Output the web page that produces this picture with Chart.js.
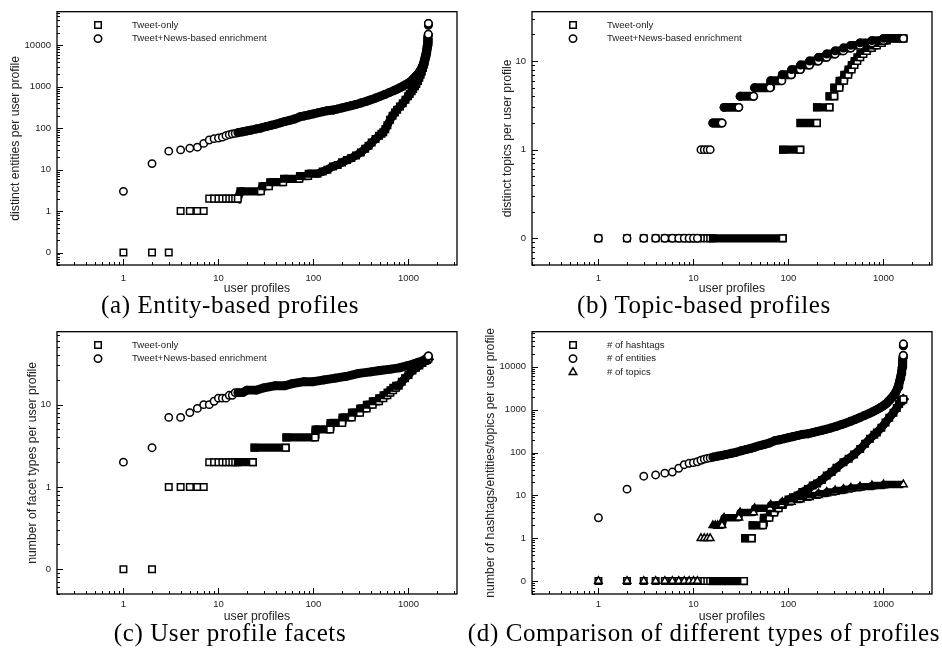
<!DOCTYPE html>
<html>
<head>
<meta charset="utf-8">
<title>User profile statistics</title>
<script src="https://cdn.jsdelivr.net/npm/chart.js@4.4.1/dist/chart.umd.min.js"></script>
<style>
  html, body { margin: 0; padding: 0; background: #fff; }
  #page { position: relative; width: 942px; height: 654px; overflow: hidden; }
  .panel { position: absolute; }
  .panel canvas { display: block; }
  .caption {
    position: absolute;
    font-family: 'Liberation Serif', 'DejaVu Serif', serif;
    font-size: 25px;
    letter-spacing: 0.6px;
    line-height: 26px;
    color: #000;
    white-space: nowrap;
    transform: translateX(-50%);
  }
</style>
</head>
<body>
<div id="page">
  <div class="panel" style="left:0;top:0"><canvas id="chart-a" width="470" height="296"></canvas></div>
  <div class="panel" style="left:470px;top:0"><canvas id="chart-b" width="472" height="296"></canvas></div>
  <div class="panel" style="left:0;top:320px"><canvas id="chart-c" width="470" height="304"></canvas></div>
  <div class="panel" style="left:470px;top:320px"><canvas id="chart-d" width="472" height="304"></canvas></div>
  <div class="caption" style="left:230px;top:292px">(a) Entity-based profiles</div>
  <div class="caption" style="left:704px;top:292px">(b) Topic-based profiles</div>
  <div class="caption" style="left:230px;top:620px">(c) User profile facets</div>
  <div class="caption" style="left:704px;top:620px">(d) Comparison of different types of profiles</div>
</div>
<script>
// tick labels
var rankTicks = [1, 10, 100, 1000];
var wideCountTicks = [0, 1, 10, 100, 1000, 10000];
var narrowCountTicks = [0, 1, 10];

// (a) entities, Tweet-only
var entityTweetRanks = [1, 2, 3, 4, 5, 6, 7, 8, 9, 10, 11, 12, 13, 14, 15, 16, 17, 28, 29, 34, 35, 48, 49, 71, 72, 88, 89, 110,
  125, 140, 160, 180, 200, 225, 250, 280, 315, 350, 380, 410, 450, 490, 520, 543, 570, 600, 640, 680, 720, 760, 813,
  870, 930, 990, 1030, 1080, 1120, 1170, 1210, 1260, 1300, 1340, 1380, 1420, 1450, 1480, 1510, 1540, 1565, 1585, 1600, 1612, 1620];
var entityTweetCounts = [0, 0, 0, 1, 1, 1, 1, 2, 2, 2, 2, 2, 2, 2, 2, 2, 3, 3, 4, 4, 5, 5, 6, 6, 7, 7, 8, 8,
  9, 10, 12, 13, 15, 17, 19, 22, 26, 32, 38, 45, 55, 66, 74, 80, 95, 118, 160, 200, 240, 280, 333,
  400, 490, 590, 675, 780, 880, 1030, 1170, 1390, 1650, 1950, 2350, 2850, 3400, 4000, 5000, 6200, 7500, 9000, 10500, 11500, 12000];

// (a) entities, Tweet+News (also "# of entities" in d)
var entityNewsRanks = [1, 2, 3, 4, 5, 6, 7, 8, 9, 10, 11, 12, 13, 14, 15, 16, 18, 20, 22, 25, 28, 32, 36, 40, 45, 50, 56, 63, 72, 80,
  90, 100, 112, 125, 140, 162, 180, 200, 225, 250, 280, 315, 363, 400, 450, 500, 560, 630, 700, 760, 813, 870, 930, 990,
  1030, 1080, 1120, 1170, 1210, 1250, 1290, 1330, 1370, 1400, 1427, 1450, 1475, 1500, 1520, 1540, 1556, 1572, 1584, 1594,
  1602, 1608, 1613, 1616, 1618, 1620];
var entityNewsCounts = [3, 14, 28, 30, 33, 35, 43, 52, 56, 58, 61, 66, 70, 73, 75, 78, 82, 86, 90, 96, 101, 110, 118, 125, 135, 145, 155, 167, 189, 198,
  210, 222, 236, 250, 265, 275, 292, 310, 330, 350, 375, 405, 450, 485, 535, 585, 650, 730, 810, 880, 950, 1030, 1120, 1220,
  1300, 1410, 1550, 1700, 1850, 2000, 2200, 2450, 2750, 3100, 3400, 3900, 4500, 5300, 6000, 6900, 8000, 9700, 11500, 13500,
  15500, 17000, 18000, 18500, 31000, 34000];

// (b) topics, Tweet-only
var topicTweetRanks = [1, 2, 3, 4, 5, 6, 7, 8, 9, 10, 11, 12, 13, 14, 15, 16, 87, 88, 133, 134, 199, 200, 270, 271, 303, 304, 344,
  345, 385, 386, 426, 427, 462, 463, 495, 496, 530, 531, 570, 571, 615, 616, 668, 669, 755, 756, 852, 853, 962, 963, 1085, 1086, 1620];
var topicTweetCounts = [0, 0, 0, 0, 0, 0, 0, 0, 0, 0, 0, 0, 0, 0, 0, 0, 0, 1, 1, 2, 2, 3, 3, 4, 4, 5, 5,
  6, 6, 7, 7, 8, 8, 9, 9, 10, 10, 11, 11, 12, 12, 13, 13, 14, 14, 15, 15, 16, 16, 17, 17, 18, 18];

// (b) topics, Tweet+News (also "# of topics" in d)
var topicNewsRanks = [1, 2, 3, 4, 5, 6, 7, 8, 9, 10, 11, 12, 13, 14, 15, 16, 17, 18, 19, 20, 21, 30, 31, 43, 44, 64, 65, 85,
  86, 107, 108, 133, 134, 166, 167, 206, 207, 252, 253, 309, 310, 378, 379, 452, 453, 565, 566, 755, 756, 1000, 1001, 1620];
var topicNewsCounts = [0, 0, 0, 0, 0, 0, 0, 0, 0, 0, 0, 1, 1, 1, 1, 2, 2, 2, 2, 2, 3, 3, 4, 4, 5, 5, 6, 6,
  7, 7, 8, 8, 9, 9, 10, 10, 11, 11, 12, 12, 13, 13, 14, 14, 15, 15, 16, 16, 17, 17, 18, 18];

// (c) facet types, Tweet-only
var facetTweetRanks = [1, 2, 3, 4, 5, 6, 7, 8, 9, 10, 11, 12, 13, 14, 15, 16, 23, 24, 51, 52, 104, 105, 150, 151, 201, 202, 253,
  254, 309, 310, 363, 364, 420, 421, 490, 491, 545, 546, 600, 601, 645, 646, 690, 691, 740, 741, 790,
  850, 920, 1000, 1100, 1200, 1300, 1400, 1500, 1570, 1620];
var facetTweetCounts = [0, 0, 1, 1, 1, 1, 1, 2, 2, 2, 2, 2, 2, 2, 2, 2, 2, 3, 3, 4, 4, 5, 5, 6, 6, 7, 7,
  8, 8, 9, 9, 10, 10, 11, 11, 12, 12, 13, 13, 14, 14, 15, 15, 16, 16, 17, 17,
  19, 21, 23, 26, 28, 30, 32, 34, 35, 36];

// (c) facet types, Tweet+News
var facetNewsRanks = [1, 2, 3, 4, 5, 6, 7, 8, 9, 10, 11, 12, 13, 14, 15, 16, 18, 20, 25, 30, 40, 50, 60, 80, 100, 130,
  170, 220, 300, 400, 500, 650, 800, 1000, 1200, 1400, 1530, 1620];
var facetNewsCounts = [2, 3, 7, 7, 8, 9, 10, 10, 11, 12, 12, 12, 13, 13, 14, 14, 14, 15, 15, 16, 17, 17, 18, 19, 19, 20,
  21, 22, 24, 25, 26, 27, 28, 30, 32, 34, 36, 39];

// (d) hashtags
var hashtagRanks = [1, 2, 3, 4, 5, 6, 7, 8, 9, 10, 11, 12, 13, 14, 15, 16, 34, 35, 41, 42, 54, 55, 63, 64, 71, 72, 79, 80, 87,
  100, 112, 125, 140, 160, 180, 200, 225, 253, 285, 320, 379, 430, 490, 569, 640, 720, 800, 852, 950,
  1050, 1150, 1274, 1380, 1460, 1520, 1563, 1600, 1620];
var hashtagCounts = [0, 0, 0, 0, 0, 0, 0, 0, 0, 0, 0, 0, 0, 0, 0, 0, 0, 1, 1, 2, 2, 3, 3, 4, 4, 5, 5, 6, 6,
  8, 9, 10, 12, 14, 17, 19, 23, 29, 35, 44, 59, 72, 90, 121, 160, 210, 260, 294, 380,
  500, 650, 850, 1100, 1350, 1550, 1650, 1700, 1750];

(function() {
  'use strict';

  var INK = '#000';
  var TEXT = '#222';
  var NONE = 'rgba(0,0,0,0)';
  var ZERO_AT = 0.1;      // "0" sits one decade below 1 on the log axis
  var DENSE_FROM = 16;    // from this rank on, neighbouring markers merge into a band
  var JOIN_PX = 8;

  var SANS = '"Liberation Sans", Arial, Helvetica, sans-serif';
  var TICK_FONT = { family: SANS, size: 9.5 };
  var TITLE_FONT = { family: SANS, size: 12.2 };
  var LEGEND_FONT = '9.6px ' + SANS;

  var MARKERS = {
    square: { pointStyle: 'rect', radius: 4.6, band: 8.3, cap: 'square' },
    circle: { pointStyle: 'circle', radius: 3.7, band: 8.9, cap: 'round' },
    triangle: { pointStyle: 'triangle', radius: 4.4, band: 7.4, cap: 'butt' }
  };

  function points(ranks, counts) {
    return ranks.map(function(r, i) {
      return { x: r, y: counts[i] === 0 ? ZERO_AT : counts[i] };
    });
  }

  function joinsNext(chart, data, i) {
    if (i === undefined || i >= data.length - 1 || data[i].x < DENSE_FROM) return false;
    var y = chart.scales.y;
    return Math.abs(y.getPixelForValue(data[i + 1].y) - y.getPixelForValue(data[i].y)) <= JOIN_PX;
  }

  function series(label, ranks, counts, marker, order) {
    var m = MARKERS[marker];
    return {
      label: label,
      marker: marker,
      data: points(ranks, counts),
      order: order,
      showLine: true,
      tension: 0,
      borderWidth: m.band,
      borderColor: NONE,
      borderCapStyle: m.cap,
      borderJoinStyle: 'round',
      segment: {
        borderColor: function(c) {
          var data = c.chart.data.datasets[c.datasetIndex].data;
          return joinsNext(c.chart, data, c.p0DataIndex) ? INK : NONE;
        }
      },
      pointStyle: m.pointStyle,
      pointRadius: m.radius,
      pointBorderWidth: 1.5,
      pointBorderColor: INK,
      pointBackgroundColor: function(c) {
        var data = c.dataset.data, i = c.dataIndex;
        if (!joinsNext(c.chart, data, i)) return '#fff';
        var next = data[i + 1];
        return (next.x - data[i].x <= 1 && next.y !== data[i].y) ? '#fff' : INK;
      }
    };
  }

  function drawMarker(ctx, marker, x, y) {
    var r = MARKERS[marker].radius;
    ctx.beginPath();
    if (marker === 'square') {
      var s = r * Math.SQRT1_2;
      ctx.rect(x - s, y - s, 2 * s, 2 * s);
    } else if (marker === 'circle') {
      ctx.arc(x, y, r, 0, Math.PI * 2);
    } else {
      ctx.moveTo(x, y - r);
      ctx.lineTo(x + r * 0.866, y + r / 2);
      ctx.lineTo(x - r * 0.866, y + r / 2);
      ctx.closePath();
    }
    ctx.fillStyle = '#fff';
    ctx.fill();
    ctx.lineWidth = 1.5;
    ctx.strokeStyle = INK;
    ctx.stroke();
  }

  function logMarks(scale) {
    var marks = [];
    var lo = Math.floor(Math.log10(scale.min)), hi = Math.ceil(Math.log10(scale.max));
    for (var e = lo; e <= hi; e++) {
      for (var k = 1; k <= 9; k++) {
        var v = k * Math.pow(10, e);
        if (v < scale.min || v > scale.max) continue;
        marks.push({ px: Math.round(scale.getPixelForValue(v)) + 0.5, len: k === 1 ? 6 : 3 });
      }
    }
    return marks;
  }

  // gnuplot-like frame with inward tick marks
  var frameTicks = {
    id: 'frameTicks',
    afterDraw: function(chart) {
      var a = chart.chartArea, ctx = chart.ctx;
      ctx.save();
      ctx.strokeStyle = INK;
      ctx.lineWidth = 1;
      ctx.beginPath();
      logMarks(chart.scales.x).forEach(function(m) {
        ctx.moveTo(m.px, a.bottom);
        ctx.lineTo(m.px, a.bottom - m.len);
      });
      logMarks(chart.scales.y).forEach(function(m) {
        ctx.moveTo(a.left, m.px);
        ctx.lineTo(a.left + m.len, m.px);
      });
      ctx.stroke();
      ctx.lineWidth = 1.3;
      ctx.strokeRect(a.left, a.top, a.right - a.left, a.bottom - a.top);
      ctx.restore();
    }
  };

  var insideLegend = {
    id: 'insideLegend',
    afterDraw: function(chart) {
      var a = chart.chartArea, ctx = chart.ctx;
      ctx.save();
      chart.data.datasets.forEach(function(ds, i) {
        var y = a.top + 13.3 + 13.6 * i;
        drawMarker(ctx, ds.marker, a.left + 41, y);
        ctx.font = LEGEND_FONT;
        ctx.textBaseline = 'middle';
        ctx.textAlign = 'left';
        ctx.fillStyle = TEXT;
        ctx.fillText(ds.label, a.left + 75, y);
      });
      ctx.restore();
    }
  };

  function makeChart(id, opt) {
    var canvas = document.getElementById(id);
    return new Chart(canvas.getContext('2d'), {
      type: 'scatter',
      data: { datasets: opt.datasets },
      options: {
        responsive: false,
        animation: false,
        devicePixelRatio: 1,
        events: [],
        layout: { padding: { left: opt.padLeft, right: opt.padRight, top: opt.padTop, bottom: 0 } },
        plugins: { legend: { display: false }, tooltip: { enabled: false } },
        scales: {
          x: {
            type: 'logarithmic',
            min: 0.2,
            max: 3240,
            afterFit: function(s) { s.height = opt.xHeight; },
            afterBuildTicks: function(s) {
              s.ticks = rankTicks.map(function(v) { return { value: v }; });
            },
            grid: { display: false, drawTicks: false },
            border: { display: false },
            ticks: {
              autoSkip: false,
              maxRotation: 0,
              padding: opt.xLabelPad,
              color: TEXT,
              font: TICK_FONT,
              callback: function(v) { return String(v); }
            },
            title: { display: true, text: 'user profiles', color: TEXT, font: TITLE_FONT, padding: 0 }
          },
          y: {
            type: 'logarithmic',
            min: 0.05,
            max: opt.yMax,
            afterFit: function(s) { s.width = opt.yWidth; },
            afterBuildTicks: function(s) {
              s.ticks = opt.yTicks.map(function(v) { return { value: v === 0 ? ZERO_AT : v }; });
            },
            grid: { display: false, drawTicks: false },
            border: { display: false },
            ticks: {
              autoSkip: false,
              padding: 6,
              color: TEXT,
              font: TICK_FONT,
              callback: function(v) { return v === ZERO_AT ? '0' : String(v); }
            },
            title: { display: true, text: opt.yTitle, color: TEXT, font: TITLE_FONT, padding: 0 }
          }
        }
      },
      plugins: [frameTicks, insideLegend]
    });
  }

  makeChart('chart-a', {
    padLeft: 8, padRight: 13, padTop: 1, yWidth: 49, xHeight: 31, xLabelPad: 7.5,
    yMax: 65000, yTicks: wideCountTicks,
    yTitle: 'distinct entities per user profile',
    datasets: [
      series('Tweet-only', entityTweetRanks, entityTweetCounts, 'square', 2),
      series('Tweet+News-based enrichment', entityNewsRanks, entityNewsCounts, 'circle', 1)
    ]
  });

  makeChart('chart-b', {
    padLeft: 30, padRight: 10, padTop: 1, yWidth: 32, xHeight: 31, xLabelPad: 7.5,
    yMax: 36, yTicks: narrowCountTicks,
    yTitle: 'distinct topics per user profile',
    datasets: [
      series('Tweet-only', topicTweetRanks, topicTweetCounts, 'square', 2),
      series('Tweet+News-based enrichment', topicNewsRanks, topicNewsCounts, 'circle', 1)
    ]
  });

  makeChart('chart-c', {
    padLeft: 25, padRight: 13, padTop: 10, yWidth: 32, xHeight: 30, xLabelPad: 5,
    yMax: 77, yTicks: narrowCountTicks,
    yTitle: 'number of facet types per user profile',
    datasets: [
      series('Tweet-only', facetTweetRanks, facetTweetCounts, 'square', 2),
      series('Tweet+News-based enrichment', facetNewsRanks, facetNewsCounts, 'circle', 1)
    ]
  });

  makeChart('chart-d', {
    padLeft: 13, padRight: 10, padTop: 10, yWidth: 49, xHeight: 30, xLabelPad: 5,
    yMax: 66000, yTicks: wideCountTicks,
    yTitle: 'number of hashtags/entities/topics per user profile',
    datasets: [
      series('# of hashtags', hashtagRanks, hashtagCounts, 'square', 3),
      series('# of entities', entityNewsRanks, entityNewsCounts, 'circle', 2),
      series('# of topics', topicNewsRanks, topicNewsCounts, 'triangle', 1)
    ]
  });
})();
</script>
</body>
</html>
